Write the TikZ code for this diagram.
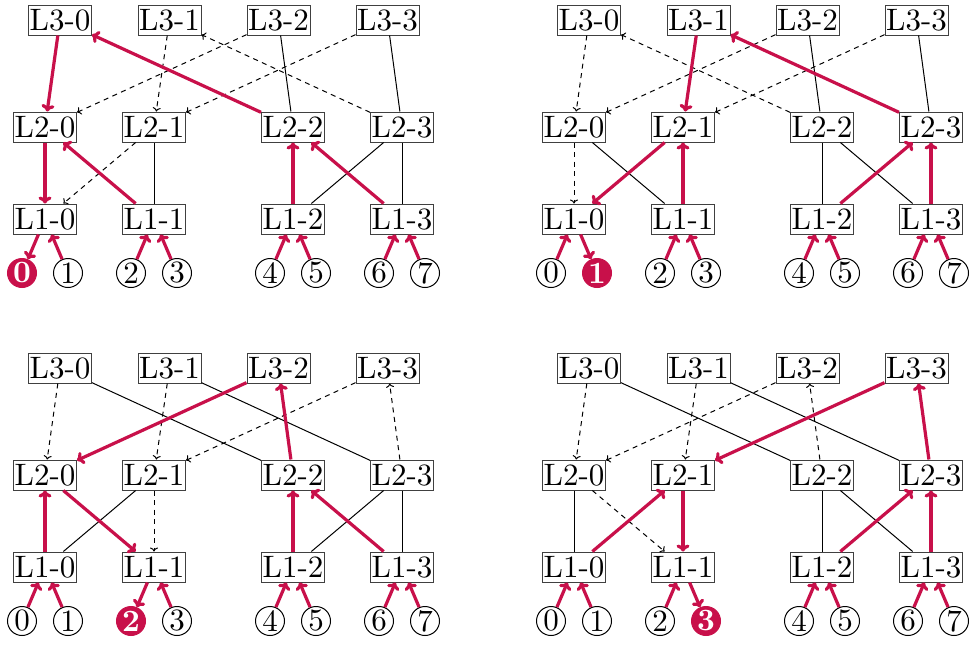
\documentclass[tikz,border=0pt]{standalone}
\usepackage{graphicx}
\usetikzlibrary{arrows.meta}
\definecolor{hot}{RGB}{200,16,74}
% labels are set at 10pt and enlarged, keeping the text-size letter shapes
\newcommand\tsz[1]{\scalebox{3.1}{#1}}
\tikzset{
  box/.style={draw=black!75, line width=1pt, fill=white, minimum width=63pt,
    minimum height=30pt, inner sep=1pt, font=\fontsize{10}{12}\selectfont},
  leaf/.style={circle, draw=black, line width=1pt, minimum size=29pt, inner sep=0pt,
    font=\fontsize{10}{12}\selectfont},
  rootleaf/.style={leaf, fill=hot, draw=hot, text=white,
    font=\fontsize{10}{12}\selectfont\bfseries},
  link/.style={line width=1pt},
  back/.style={line width=1pt, dash pattern=on 5pt off 4.5pt,
    -{To[length=4pt,width=8pt]}},
  hotpath/.style={draw=hot, line width=3.2pt, -{To[length=7pt,width=13pt]}}
}
% One reduction tree: nodes, leaves and the leaf arrows.
% #1 name prefix, #2/#3 offset, #4 index of the highlighted leaf
\newcommand\treepanel[4]{%
  \begin{scope}[shift={(#2,#3)}]
    \foreach \i/\x in {0/60,1/169.5,2/278.5,3/387.5}
      \node[box] (#1L3\i) at (\x,20) {\tsz{L3-\i}};
    \foreach \i/\x in {0/45,1/154,2/293,3/402} {
      \node[box] (#1L2\i) at (\x,127) {\tsz{L2-\i}};
      \node[box] (#1L1\i) at (\x,219) {\tsz{L1-\i}};
    }
    \foreach \j/\x in {0/22,1/68,2/131,3/177,4/270,5/316,6/379,7/425} {
      \ifnum\j=#4
        \node[rootleaf] (#1c\j) at (\x,273) {\tsz{\j}};
      \else
        \node[leaf] (#1c\j) at (\x,273) {\tsz{\j}};
      \fi
    }
    \foreach \j/\k in {0/0,1/0,2/1,3/1,4/2,5/2,6/3,7/3} {
      \ifnum\j=#4
        \draw[hotpath] (#1L1\k) -- (#1c\j);
      \else
        \draw[hotpath] (#1c\j) -- (#1L1\k);
      \fi
    }
  \end{scope}}
\begin{document}
\begin{tikzpicture}[x=1pt,y=-1pt]
  \useasboundingbox (0,0) rectangle (972,646);

  \treepanel{a}{0}{0}{0}
  \treepanel{b}{529}{0}{1}
  \treepanel{c}{0}{348}{2}
  \treepanel{d}{529}{348}{3}

  % tree rooted at leaf 0
  \draw[link] (aL21) -- (aL11);  \draw[link] (aL23) -- (aL12);
  \draw[link] (aL23) -- (aL13);  \draw[link] (aL32) -- (aL22);
  \draw[link] (aL33) -- (aL23);
  \draw[back] (aL21) -- (aL10);  \draw[back] (aL31) -- (aL21);
  \draw[back] (aL32) -- (aL20);  \draw[back] (aL33) -- (aL21);
  \draw[back] (aL23) -- (aL31);
  \draw[hotpath] (aL11) -- (aL20);  \draw[hotpath] (aL20) -- (aL10);
  \draw[hotpath] (aL12) -- (aL22);  \draw[hotpath] (aL13) -- (aL22);
  \draw[hotpath] (aL22) -- (aL30);  \draw[hotpath] (aL30) -- (aL20);

  % tree rooted at leaf 1
  \draw[link] (bL20) -- (bL11);  \draw[link] (bL22) -- (bL12);
  \draw[link] (bL22) -- (bL13);  \draw[link] (bL32) -- (bL22);
  \draw[link] (bL33) -- (bL23);
  \draw[back] (bL30) -- (bL20);  \draw[back] (bL20) -- (bL10);
  \draw[back] (bL32) -- (bL20);  \draw[back] (bL33) -- (bL21);
  \draw[back] (bL22) -- (bL30);
  \draw[hotpath] (bL11) -- (bL21);  \draw[hotpath] (bL21) -- (bL10);
  \draw[hotpath] (bL12) -- (bL23);  \draw[hotpath] (bL13) -- (bL23);
  \draw[hotpath] (bL23) -- (bL31);  \draw[hotpath] (bL31) -- (bL21);

  % tree rooted at leaf 2
  \draw[link] (cL21) -- (cL10);  \draw[link] (cL23) -- (cL12);
  \draw[link] (cL23) -- (cL13);  \draw[link] (cL30) -- (cL22);
  \draw[link] (cL31) -- (cL23);
  \draw[back] (cL30) -- (cL20);  \draw[back] (cL31) -- (cL21);
  \draw[back] (cL21) -- (cL11);  \draw[back] (cL33) -- (cL21);
  \draw[back] (cL23) -- (cL33);
  \draw[hotpath] (cL10) -- (cL20);  \draw[hotpath] (cL20) -- (cL11);
  \draw[hotpath] (cL12) -- (cL22);  \draw[hotpath] (cL13) -- (cL22);
  \draw[hotpath] (cL22) -- (cL32);  \draw[hotpath] (cL32) -- (cL20);

  % tree rooted at leaf 3
  \draw[link] (dL20) -- (dL10);  \draw[link] (dL22) -- (dL12);
  \draw[link] (dL22) -- (dL13);  \draw[link] (dL30) -- (dL22);
  \draw[link] (dL31) -- (dL23);
  \draw[back] (dL30) -- (dL20);  \draw[back] (dL31) -- (dL21);
  \draw[back] (dL32) -- (dL20);  \draw[back] (dL20) -- (dL11);
  \draw[back] (dL22) -- (dL32);
  \draw[hotpath] (dL10) -- (dL21);  \draw[hotpath] (dL21) -- (dL11);
  \draw[hotpath] (dL12) -- (dL23);  \draw[hotpath] (dL13) -- (dL23);
  \draw[hotpath] (dL23) -- (dL33);  \draw[hotpath] (dL33) -- (dL21);
\end{tikzpicture}
\end{document}
